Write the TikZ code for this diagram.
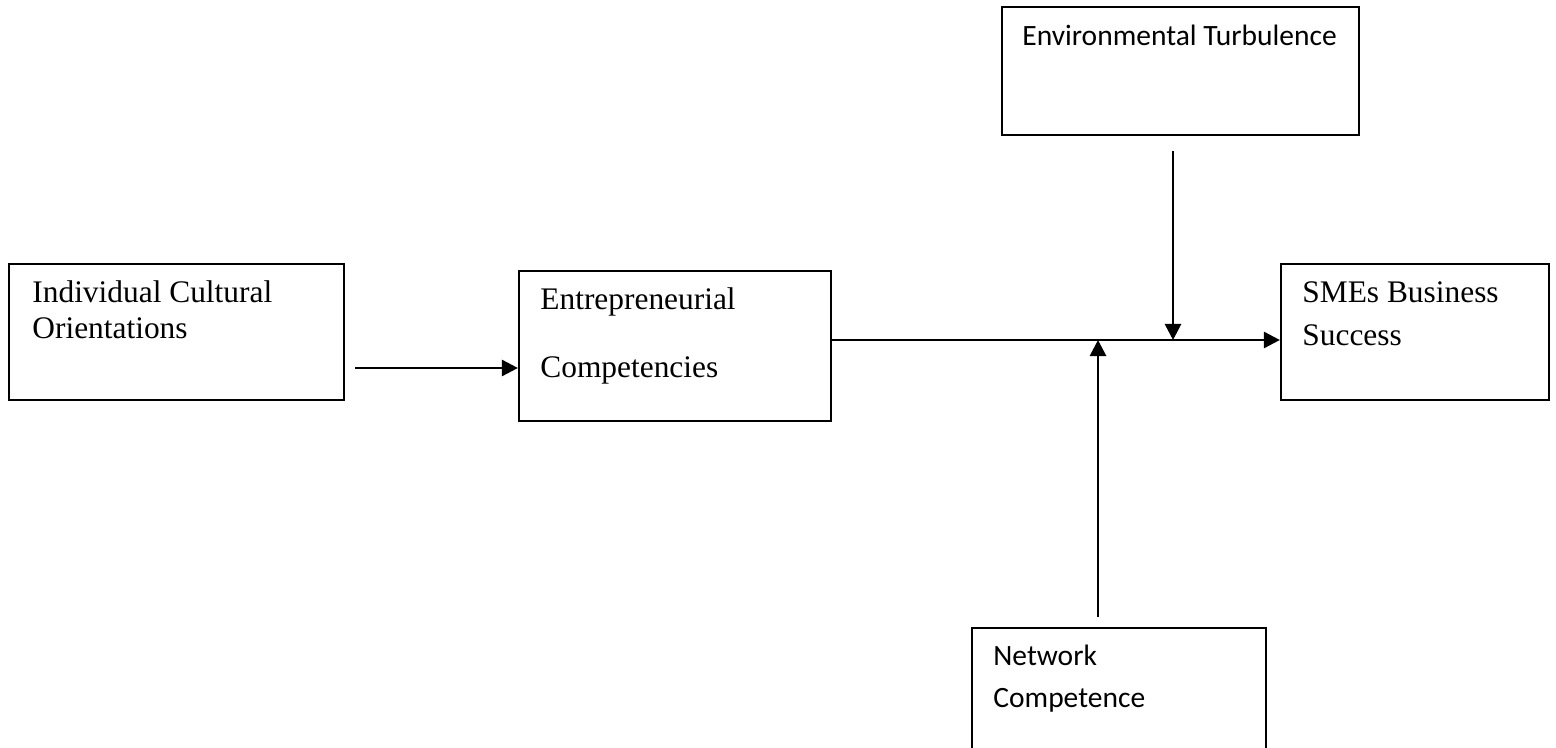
\documentclass[tikz,border=0pt]{standalone}
\usepackage{fontspec}
\setmainfont{Liberation Serif}
\newfontfamily\calfont{Carlito}
\usetikzlibrary{arrows.meta,calc}
\tikzset{
  boxnode/.style={draw=black, line width=1.1pt, rectangle, inner sep=0pt, fill=none},
  serif/.style={anchor=base west, inner sep=0pt, font=\fontsize{15.7}{18}\selectfont},
  sans/.style={anchor=base west, inner sep=0pt, font=\calfont\fontsize{14.75}{18}\selectfont},
  arr/.style={line width=1.35pt, -{Triangle[length=8pt,width=8pt]}},
}
\begin{document}
\begin{tikzpicture}[x=0.5pt, y=-0.5pt]
\useasboundingbox (0,0) rectangle (1556,748);
\clip (0,0) rectangle (1556,748);
% boxes
\node[boxnode, minimum width=167.5pt, minimum height=68pt] (ico) at (176.5,332) {};
\node[boxnode, minimum width=156pt, minimum height=75pt] (ec) at (675,346) {};
\node[boxnode, minimum width=134pt, minimum height=68pt] (sme) at (1415,332) {};
\node[boxnode, minimum width=178.5pt, minimum height=64pt] (et) at (1180.5,71) {};
\node[boxnode, minimum width=147pt, minimum height=63pt] (nc) at (1119,691) {};
% texts
\node[serif] (icot1) at (32,303) {Individual Cultural};
\node[serif] (icot2) at (32,339) {Orientations};
\node[serif] (ect1) at (540,310) {Entrepreneurial};
\node[serif] (ect2) at (540,377) {Competencies};
\node[serif] (smet1) at (1302,303) {SMEs Business};
\node[serif] (smet2) at (1302,345) {Success};
\node[sans] (ett) at (1022,46) {Environmental Turbulence};
\node[sans] (nct1) at (993,665) {Network};
\node[sans] (nct2) at (993,707) {Competence};
% connectors
\coordinate (a1) at (355,368);
\coordinate (m1) at (831,340);
\coordinate (t1) at (1173,151);
\coordinate (n1) at (1098,617);
\draw[arr] (a1) -- (a1 -| ec.west);
\draw[arr] (m1) -- (m1 -| sme.west);
\draw[arr] (t1) -- (t1 |- m1);
\draw[arr] (n1) -- (n1 |- m1);
\end{tikzpicture}
\end{document}
